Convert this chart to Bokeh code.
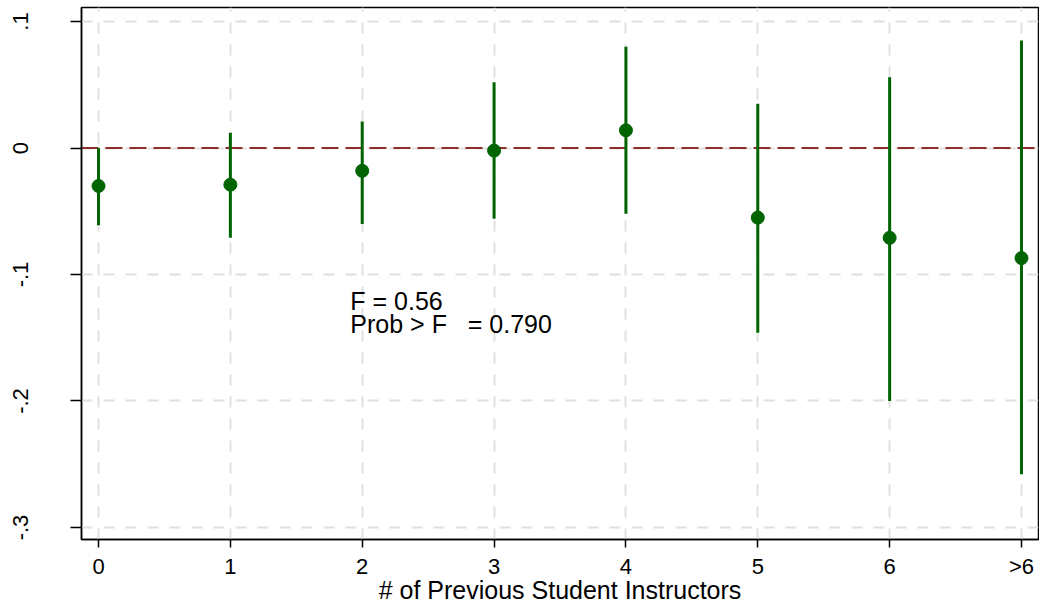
from bokeh.plotting import figure
from bokeh.models import FixedTicker, Range1d
from bokeh.core.properties import value
from bokeh.embed import file_html
from bokeh.resources import INLINE

# ---- data ----
categories = ["0", "1", "2", "3", "4", "5", "6", ">6"]
coef = [-0.030, -0.029, -0.018, -0.002, 0.014, -0.055, -0.071, -0.087]
ci_upper = [0.000, 0.012, 0.021, 0.052, 0.080, 0.035, 0.056, 0.085]
ci_lower = [-0.061, -0.071, -0.060, -0.056, -0.052, -0.146, -0.200, -0.258]
y_ticks = [0.1, 0.0, -0.1, -0.2, -0.3]
y_tick_labels = [".1", "0", "-.1", "-.2", "-.3"]
f_text = "F = 0.56"
p_text = "Prob > F\u00a0\u00a0 = 0.790"
x_title = "# of Previous Student Instructors"

xs = list(range(len(categories)))
FONT = "Liberation Sans"
X0, X1 = -0.129, 7.129
Y0, Y1 = -0.3095, 0.1111

p = figure(width=1039, height=606, output_backend="svg", toolbar_location=None,
           x_range=Range1d(X0, X1), y_range=Range1d(Y0, Y1),
           min_border_left=81, min_border_right=1, min_border_top=7, min_border_bottom=67)

p.background_fill_color = "white"
p.border_fill_color = "white"
p.outline_line_color = "black"
p.outline_line_width = 1.5

# axes
p.xaxis.ticker = FixedTicker(ticks=xs)
p.xaxis.major_label_overrides = {i: c for i, c in zip(xs, categories)}
p.yaxis.ticker = FixedTicker(ticks=y_ticks)
p.yaxis.major_label_overrides = {t: l for t, l in zip(y_ticks, y_tick_labels)}
p.yaxis.major_label_orientation = "vertical"

for ax in (p.xaxis, p.yaxis):
    ax.axis_line_color = "black"
    ax.axis_line_width = 1.5
    ax.major_tick_line_color = "black"
    ax.major_tick_line_width = 1.5
    ax.minor_tick_line_color = None
    ax.major_tick_in = 0
    ax.major_label_text_font = FONT
    ax.major_label_text_color = "black"
    ax.axis_label_text_font = FONT
    ax.axis_label_text_font_style = "normal"
    ax.axis_label_text_color = "black"

p.xaxis.major_label_text_font_size = "22px"
p.yaxis.major_label_text_font_size = "22px"
p.xaxis.major_tick_out = 8
p.yaxis.major_tick_out = 11
p.xaxis.major_label_standoff = 6
p.yaxis.major_label_standoff = 42
p.xaxis.axis_label = x_title
p.xaxis.axis_label_text_font_size = "25px"
p.xaxis.axis_label_standoff = -6

# grid
for g in (p.xgrid, p.ygrid):
    g.grid_line_color = "#e0e0e0"
    g.grid_line_width = 2
    g.grid_line_dash = "11 11"
p.xgrid.ticker = FixedTicker(ticks=xs)
p.ygrid.ticker = FixedTicker(ticks=y_ticks)

# zero reference line
p.line(x=[X0, X1], y=[0, 0], line_color="#902c2c", line_width=2, line_dash="17 7")

# confidence intervals and point estimates
p.segment(x0=xs, y0=ci_lower, x1=xs, y1=ci_upper, line_color="#006400", line_width=3)
p.scatter(x=xs, y=coef, size=13, marker="circle", fill_color="#006400", line_color="#006400")

# annotation
p.text(x=[1.91], y=[-0.1095], text=[f_text], text_font=value(FONT), text_font_size="25px",
       text_baseline="top", text_align="left", text_color="black")
p.text(x=[1.91], y=[-0.1280], text=[p_text], text_font=value(FONT), text_font_size="25px",
       text_baseline="top", text_align="left", text_color="black")

open("out.html", "w").write(file_html(p, INLINE))
